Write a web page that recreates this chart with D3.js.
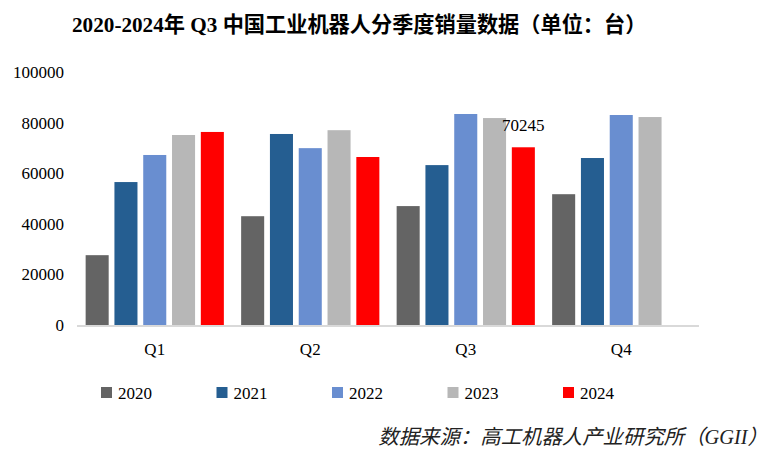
<!DOCTYPE html>
<html>
<head>
    <meta charset="utf-8">
    <script src="https://cdn.jsdelivr.net/npm/d3@7"></script>
    <title>2020-2024 Q3 industrial robot sales</title>
    <style type="text/css">
        body {
            margin: 0;
            background: #fff;
        }

        text {
            font-family: "Liberation Serif", "Noto Sans CJK SC", serif;
            fill: #000;
        }

        .title {
            font-size: 21.2px;
            font-weight: bold;
        }

        .tick {
            font-size: 17px;
        }

        .source {
            font-size: 20.4px;
            font-style: italic;
            fill: #222;
        }
    </style>
</head>
<body>

<div id="visContainer"></div>

<script>

var quarters = ["Q1", "Q2", "Q3", "Q4"];
var years = ["2020", "2021", "2022", "2023", "2024"];
var yTicks = [0, 20000, 40000, 60000, 80000, 100000];

// sales per quarter, one array per year (2024 Q4 not out yet)
var sales2020 = [27600, 43000, 47000, 51700];
var sales2021 = [56500, 75500, 63200, 66000];
var sales2022 = [67200, 69900, 83400, 83000];
var sales2023 = [75100, 77000, 81800, 82200];
var sales2024 = [76300, 66400, 70245, null];

var colors = ["#646464", "#255e91", "#698ed0", "#b7b7b7", "#ff0000"];

var seriesByYear = [sales2020, sales2021, sales2022, sales2023, sales2024];

var width = 783, height = 465;

var svg = d3.select("#visContainer").append("svg")
        .attr("width", width)
        .attr("height", height);

svg.append("text")
        .attr("class", "title")
        .attr("x", 72)
        .attr("y", 32)
        .text("2020-2024年 Q3 中国工业机器人分季度销量数据（单位：台）");

var x0 = d3.scaleBand()
        .domain(quarters)
        .range([77, 699]);

var x1 = d3.scaleBand()
        .domain(years)
        .range([0, x0.bandwidth()])
        .paddingInner(0.2)
        .paddingOuter(0.3);

var y = d3.scaleLinear()
        .domain([0, 100000])
        .range([325, 72]);

// y tick labels, no axis line
svg.selectAll("text.ylab")
        .data(yTicks)
        .enter().append("text")
        .attr("class", "tick ylab")
        .attr("x", 64)
        .attr("y", function (d) { return y(d); })
        .attr("dy", "0.35em")
        .attr("text-anchor", "end")
        .text(function (d) { return d; });

var g = svg.selectAll("g.quarter")
        .data(quarters)
        .enter().append("g")
        .attr("class", "quarter")
        .attr("transform", function (d) { return "translate(" + x0(d) + ",0)"; });

g.selectAll("rect")
        .data(function (q, qi) {
            return years.map(function (yr, i) {
                return {year: yr, value: seriesByYear[i][qi], color: colors[i]};
            }).filter(function (d) { return d.value !== null; });
        })
        .enter().append("rect")
        .attr("x", function (d) { return x1(d.year); })
        .attr("width", x1.bandwidth())
        .attr("y", function (d) { return y(d.value); })
        .attr("height", function (d) { return y(0) - y(d.value); })
        .style("fill", function (d) { return d.color; });

// only the latest figure gets a label
svg.append("text")
        .attr("class", "tick")
        .attr("x", x0("Q3") + x1("2024") + x1.bandwidth() / 2)
        .attr("y", y(sales2024[2]) - 16)
        .attr("text-anchor", "middle")
        .text(sales2024[2]);

svg.append("line")
        .attr("x1", 77)
        .attr("x2", 699)
        .attr("y1", y(0) + 1)
        .attr("y2", y(0) + 1)
        .style("stroke", "#d9d9d9")
        .style("stroke-width", 2);

svg.selectAll("text.xlab")
        .data(quarters)
        .enter().append("text")
        .attr("class", "tick xlab")
        .attr("x", function (d) { return x0(d) + x0.bandwidth() / 2; })
        .attr("y", 355)
        .attr("text-anchor", "middle")
        .text(function (d) { return d; });

var legend = svg.selectAll("g.legend")
        .data(years)
        .enter().append("g")
        .attr("class", "legend")
        .attr("transform", function (d, i) { return "translate(" + (101 + i * 115.5) + ",387)"; });

legend.append("rect")
        .attr("width", 11)
        .attr("height", 11)
        .style("fill", function (d, i) { return colors[i]; });

legend.append("text")
        .attr("class", "tick")
        .attr("x", 17)
        .attr("y", 12)
        .text(function (d) { return d; });

svg.append("text")
        .attr("class", "source")
        .attr("x", 768)
        .attr("y", 444)
        .attr("text-anchor", "end")
        .text("数据来源：高工机器人产业研究所（GGII）");

</script>

</body>
</html>
